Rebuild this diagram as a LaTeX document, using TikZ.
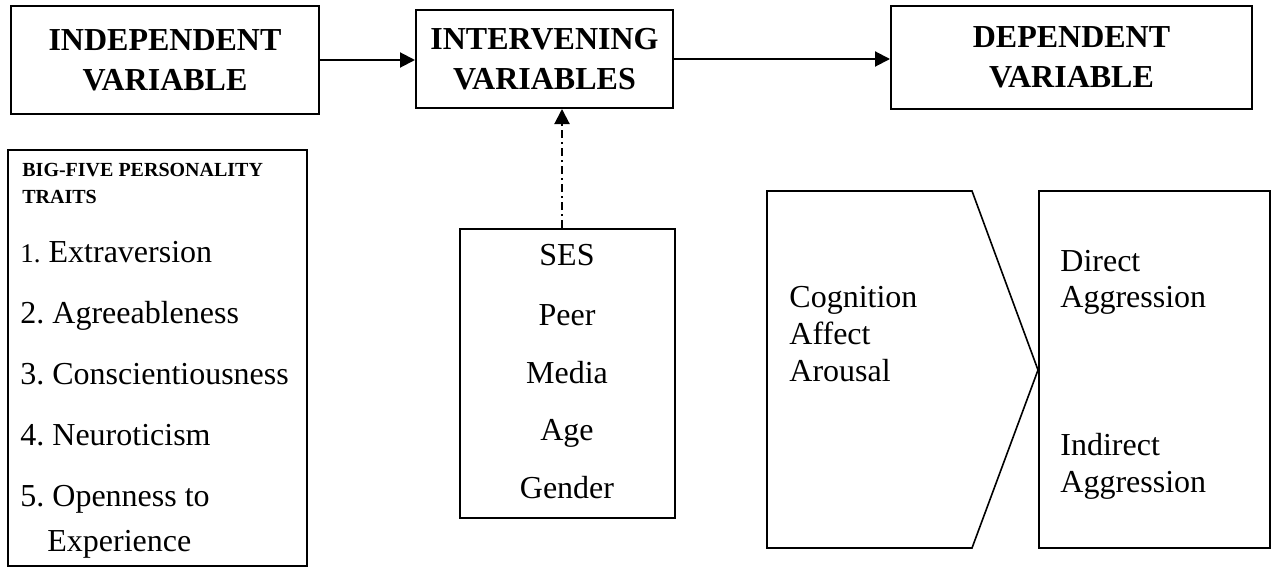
\documentclass[tikz,border=0pt]{standalone}
\usepackage{fontspec}
\setmainfont{Liberation Serif}
\usetikzlibrary{arrows.meta}
\frenchspacing
\begin{document}
\begin{tikzpicture}[x=0.5pt,y=-0.5pt,
  headbox/.style={draw,line width=1pt,inner sep=0pt,align=center,
    font=\fontsize{16}{20}\selectfont\bfseries},
  listbox/.style={draw,line width=0.8pt,inner sep=0pt},
  txt/.style={inner sep=0pt,anchor=base west,font=\fontsize{16}{18}\selectfont},
  ctxt/.style={inner sep=0pt,anchor=base,font=\fontsize{16}{18}\selectfont},
  htxt/.style={inner sep=0pt,anchor=base west,font=\fontsize{10}{12}\selectfont\bfseries},
  link/.style={line width=1pt,-{Triangle[length=7.5pt,width=7.5pt]}},
  dlink/.style={line width=1pt,dash pattern=on 4pt off 2pt on 1pt off 2pt,
    -{Triangle[length=7.5pt,width=7.5pt]}}
]
\useasboundingbox (0,0) rectangle (1272,567);

% top row
\node[headbox,minimum width=154pt,minimum height=54pt] (indep) at (165,60) {INDEPENDENT\\VARIABLE};
\node[headbox,minimum width=128.5pt,minimum height=49pt] (inter) at (544.5,59) {INTERVENING\\VARIABLES};
\node[headbox,minimum width=180.5pt,minimum height=51.5pt] (dep) at (1071.5,57.5) {DEPENDENT\\VARIABLE};

\draw[link] (indep.east |- 0,60) -- (inter.west |- 0,60);
\draw[link] (inter.east |- 0,59) -- (dep.west |- 0,59);

% big five box
\node[listbox,minimum width=149.5pt,minimum height=208pt] (big) at (157.5,358) {};
\node[htxt] (bh1) at (22,176) {BIG-FIVE PERSONALITY};
\node[htxt] (bh2) at (22,203) {TRAITS};
\node[txt] (b1) at (20,262) {{\fontsize{13.5}{14}\selectfont 1.} Extraversion};
\node[txt] (b2) at (20,323) {2. Agreeableness};
\node[txt] (b3) at (20,384) {3. Conscientiousness};
\node[txt] (b4) at (20,445) {4. Neuroticism};
\node[txt] (b5) at (20,506) {5. Openness to};
\node[txt] (b6) at (47,551) {Experience};

% SES box
\node[listbox,minimum width=107.5pt,minimum height=144.5pt] (ses) at (567.5,373.5) {};
\node[ctxt] (s1) at (567,265) {SES};
\node[ctxt] (s2) at (567,325) {Peer};
\node[ctxt] (s3) at (567,383) {Media};
\node[ctxt] (s4) at (567,440) {Age};
\node[ctxt] (s5) at (567,498) {Gender};

\coordinate (dx) at (562,0);
\draw[dlink] (ses.north -| dx) -- (inter.south -| dx);

% chevron
\coordinate (c1) at (767,191);
\coordinate (c2) at (972,191);
\coordinate (c3) at (1038,370);
\coordinate (c4) at (972,548);
\coordinate (c5) at (767,548);
\draw[line width=0.8pt,line join=miter] (c1) -- (c2) -- (c3) -- (c4) -- (c5) -- cycle;
\node[txt] (k1) at (789,307) {Cognition};
\node[txt] (k2) at (789,344) {Affect};
\node[txt] (k3) at (789,381) {Arousal};

% outcome box
\node[listbox,minimum width=115.5pt,minimum height=178.5pt] (out) at (1154.5,369.5) {};
\node[txt] (o1) at (1060,271) {Direct};
\node[txt] (o2) at (1060,307) {Aggression};
\node[txt] (o3) at (1060,455) {Indirect};
\node[txt] (o4) at (1060,492) {Aggression};
\end{tikzpicture}
\end{document}
